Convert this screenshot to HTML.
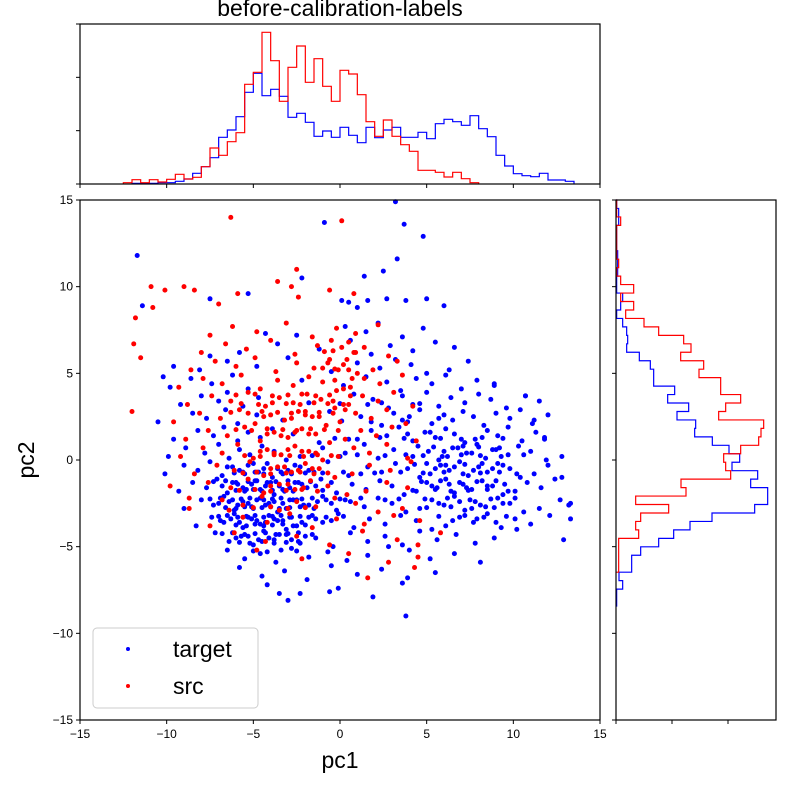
<!DOCTYPE html>
<html><head><meta charset="utf-8"><style>
html,body{margin:0;padding:0;background:#fff;}
svg{display:block;font-family:"Liberation Sans","DejaVu Sans",sans-serif;}
</style></head><body>
<svg id="chart" width="800" height="800" viewBox="0 0 800 800">
<text x="340" y="16" text-anchor="middle" font-size="23">before-calibration-labels</text>
<g id="scatter"></g>
<g id="tophist"></g>
<g id="righthist"></g>
<g id="axes"></g>
<text x="340" y="768" text-anchor="middle" font-size="23">pc1</text>
<text x="34" y="460" text-anchor="middle" font-size="23" transform="rotate(-90 34 460)">pc2</text>
<g>
<rect x="93" y="628" width="165" height="80" rx="4" fill="#fff" fill-opacity="0.8" stroke="#ccc"/>
<circle cx="128" cy="649" r="2" fill="blue"/>
<text x="173" y="657" font-size="23">target</text>
<circle cx="128" cy="686" r="2" fill="red"/>
<text x="173" y="694" font-size="23">src</text>
</g>
</svg>
<script>
const axisTicks = [-15,-10,-5,0,5,10,15];
const topHistBlueStart = -12, topHistRedStart = -12.5, topHistBin = 0.5;
const topHistBlue = [2,2,2,4,4,8,15,32,52,79,140,162,202,275,332,265,284,263,200,212,185,143,159,140,170,146,124,170,139,162,170,140,140,155,136,181,194,187,176,205,166,142,86,54,31,25,22,32,12,12,8];
const topHistRed = [4,13,4,13,6,14,29,15,20,52,108,86,127,154,299,335,455,370,248,350,414,305,376,293,248,341,330,268,187,143,192,143,118,98,41,41,35,21,35,16,4];
const rightHistStart = 15, rightHistBin = 0.488;
const rightHistBlue = [2,8,8,2,2,2,5,5,5,2,2,20,14,2,20,32,35,32,70,103,113,113,176,155,218,183,239,236,289,339,371,348,425,404,455,455,416,288,222,173,128,74,47,47,9,20,2,2];
const rightHistRed = [2,2,14,2,2,2,2,8,2,14,53,14,53,29,84,128,203,225,194,263,249,314,314,374,329,308,443,435,428,374,323,329,344,195,210,59,158,74,59,68,8,8,8,8];
const topCountTicks = [0,160,320,480];
const rightCountTicks = [0,168,336];
const targetPoints = [
[-11.7,11.8],[-11.4,8.9],[-7.5,9.3],[-5.3,9.6],[-2.2,10.5],[-0.9,13.7],[3.2,14.9],[3.7,13.6],[4.8,12.9],[3.3,11.6],[2.5,10.9],[1.4,10.6],[2.7,9.3],[3.8,9.2],[5,9.3],[6,8.9],[0.5,9.1],[1,8.8],[1.6,9.2],[0.1,9.2],
[3.8,-9],[-3.5,-7.7],[-3,-8.1],[-0.6,-7.6],[13.3,-3.4],[13.3,-2.5],[12.9,-4.6],[12.8,-1],[11.8,1.2],[11.2,2.3],[10.7,3.7],[8.9,4.4],
[-2.5,7.2],[0.3,7.7],[1.5,7.4],[2.2,7.9],[3.6,7.1],[4.8,7.6],[-4.3,7.3],
[-5.8,6.2],[-3.6,6.7],[-1.2,6.4],[0.6,6.9],[1.8,6.1],[2.9,6.6],[4.2,6.3],[5.5,6.8],[6.6,6.5],[-7.5,6],
[-8.1,5.2],[-6.5,5.7],[-4.8,5.4],[-3,5.9],[-0.5,5.1],[1,5.6],[2.3,5.3],[3.2,5.8],[4.1,5.5],[5,5],[6.3,5.2],[7.4,5.7],[-9.6,5.4],
[-9.8,4.2],[-8.6,4.7],[-7.4,4.4],[-6.2,4.9],[-5.3,4.1],[-2.2,4.6],[0.2,4.3],[1.5,4.8],[2.7,4.5],[3.5,4],[4.4,4.7],[5.3,4.4],[6.1,4.9],[7,4.1],[7.9,4.6],[8.9,4.3],[-10.2,4.8],
[-9.2,3.2],[-8,3.7],[-7,3.4],[-6.5,3.9],[-5.6,3.1],[-4.7,3.6],[-1.8,3.3],[0.8,3.8],[1.9,3.5],[2.8,3],[3.6,3.7],[4.2,3.2],[5,3.9],[5.7,3.1],[6.4,3.6],[7.2,3.3],[8,3.8],[8.7,3.5],[9.6,3],[10.7,3.7],[11.5,3.4],
[-10.5,2.2],[-8.5,2.7],[-7.7,2.4],[-6.6,2.9],[-5.9,2.1],[-4.8,2.6],[-3.3,2.3],[-0.6,2.8],[1.2,2.5],[2.4,2],[3.1,2.7],[3.9,2.2],[4.6,2.9],[5.3,2.1],[6,2.6],[6.5,2.3],[7.1,2.8],[7.7,2.5],[8.3,2],[9,2.7],[9.8,2.4],[10.4,2.9],[11.1,2.1],[12,2.6],
[-9.6,1.2],[-8.2,1.7],[-7.3,1.4],[-6.7,1.9],[-5.9,1.1],[-5.3,1.6],[-4.6,1.3],[-3.9,1.8],[-2.7,1.5],[-1.2,1],[0.5,1.2],[1.8,1.7],[2.7,1.4],[3.4,1.9],[4.2,1.1],[4.9,1.6],[5.5,1.3],[6.1,1.8],[6.6,1.5],[7.2,1],[7.8,1.2],[8.5,1.7],[9.1,1.4],[9.7,1.9],[10.5,1.1],[11.3,1.6],[11.8,1.3],
[-9.9,0.2],[-8.9,0.7],[-7.8,0.4],[-7,0.9],[-6.4,0.1],[-5.8,0.6],[-5.2,0.3],[-4.5,0.8],[-3.8,0.5],[-3.1,0],[-2.3,0.2],[-1,0.7],[0.3,0.4],[1.4,0.9],[2.2,0.1],[3.1,0.6],[3.8,0.3],[4.5,0.8],[5.1,0.5],[5.7,0],[6.2,0.2],[6.8,0.7],[7.3,0.4],[7.9,0.9],[8.4,0.1],[9,0.6],[9.7,0.3],[10.3,0.8],[11,0.5],[11.9,0],[12.8,0.2],
[-10.1,-0.8],[-9,-0.3],[-8.2,-0.6],[-7.5,-0.1],[-6.8,-0.9],[-6.2,-0.4],[-5.6,-0.7],[-5,-0.2],[-4.4,-0.5],[-3.9,-1],[-3.3,-0.8],[-2.6,-0.3],[-1.8,-0.6],[-0.7,-0.1],[0.5,-0.9],[1.6,-0.4],[2.4,-0.7],[3.2,-0.2],[3.9,-0.5],[4.6,-1],[5.2,-0.8],[5.8,-0.3],[6.3,-0.6],[6.9,-0.1],[7.4,-0.9],[8,-0.4],[8.5,-0.7],[9.1,-0.2],[9.8,-0.5],[10.4,-1],[11.2,-0.8],[12,-0.3],
[-9.3,-1.8],[-8.5,-1.3],[-7.7,-1.6],[-7.1,-1.1],[-6.5,-1.9],[-5.9,-1.4],[-5.4,-1.7],[-4.9,-1.2],[-4.3,-1.5],[-3.8,-2],[-3.2,-1.8],[-2.6,-1.3],[-1.9,-1.6],[-1.1,-1.1],[-0.2,-1.9],[0.7,-1.4],[1.5,-1.7],[2.3,-1.2],[3,-1.5],[3.7,-2],[4.4,-1.8],[5,-1.3],[5.6,-1.6],[6.1,-1.1],[6.6,-1.9],[7.1,-1.4],[7.6,-1.7],[8.2,-1.2],[8.8,-1.5],[9.4,-2],[10.1,-1.8],[10.8,-1.3],[11.6,-1.6],[12.4,-1.1],
[-9,-2.8],[-8,-2.3],[-7.3,-2.6],[-6.7,-2.1],[-6.1,-2.9],[-5.6,-2.4],[-5.1,-2.7],[-4.6,-2.2],[-4.1,-2.5],[-3.6,-3],[-3.1,-2.8],[-2.5,-2.3],[-1.8,-2.6],[-1,-2.1],[-0.2,-2.9],[0.6,-2.4],[1.4,-2.7],[2.2,-2.2],[3,-2.5],[3.8,-3],[4.6,-2.8],[5.3,-2.3],[6,-2.6],[6.6,-2.1],[7.2,-2.9],[7.8,-2.4],[8.4,-2.7],[9.1,-2.2],[9.8,-2.5],[10.6,-3],[11.5,-2.8],[12.7,-2.3],[13.2,-2.6],
[-8.3,-3.8],[-7.4,-3.3],[-6.7,-3.6],[-6.1,-3.1],[-5.6,-3.9],[-5.1,-3.4],[-4.6,-3.7],[-4.1,-3.2],[-3.6,-3.5],[-3.1,-4],[-2.5,-3.8],[-1.8,-3.3],[-1,-3.6],[-0.1,-3.1],[0.8,-3.9],[1.7,-3.4],[2.6,-3.7],[3.5,-3.2],[4.4,-3.5],[5.3,-4],[6.1,-3.8],[6.9,-3.3],[7.7,-3.6],[8.5,-3.1],[9.3,-3.9],[10.1,-3.4],[11,-3.7],[12.1,-3.2],
[-7.2,-4.2],[-6.4,-4.7],[-5.7,-4.4],[-5,-4.9],[-4.4,-4.1],[-3.8,-4.6],[-3.1,-4.3],[-2.3,-4.8],[-1.4,-4.5],[-0.4,-5],[0.6,-4.2],[1.6,-4.7],[2.6,-4.4],[3.6,-4.9],[4.6,-4.1],[5.6,-4.6],[6.7,-4.3],[7.8,-4.8],[8.9,-4.5],[10.2,-4],
[-6.5,-5.2],[-5.5,-5.7],[-4.6,-5.4],[-3.7,-5.9],[-2.8,-5.1],[-1.8,-5.6],[-0.7,-5.3],[0.4,-5.8],[1.6,-5.5],[2.8,-5],[4,-5.2],[5.2,-5.7],[6.6,-5.4],[8.1,-5.9],
[-5.8,-6.2],[-4.5,-6.7],[-3.2,-6.4],[-1.9,-6.9],[-0.5,-6.1],[1,-6.6],[2.4,-6.3],[3.9,-6.8],[5.5,-6.5],
[-4.2,-7.2],[-2.3,-7.7],[-0.1,-7.4],[1.9,-7.9],[3.6,-7.1],
[-6.5,-0.4],[-5.8,-0.6],[-5.3,-0.3],[-4.7,-0.7],[-4.2,-0.2],[-3.6,-0.5],[-3,-0.6],[-2.3,-0.4],[-1.5,-0.7],
[-6.8,-1.5],[-6.2,-1.3],[-5.6,-1.6],[-5.1,-1.4],[-4.6,-1.7],[-4,-1.3],[-3.5,-1.5],[-2.9,-1.6],[-2.2,-1.4],[-1.4,-1.5],[-0.5,-1.3],
[-7,-2.5],[-6.4,-2.4],[-5.9,-2.6],[-5.3,-2.5],[-4.8,-2.3],[-4.3,-2.6],[-3.8,-2.4],[-3.3,-2.5],[-2.7,-2.3],[-2.1,-2.6],[-1.3,-2.4],[-0.5,-2.5],[0.3,-2.3],
[-6.9,-3.5],[-6.3,-3.4],[-5.8,-3.6],[-5.3,-3.3],[-4.8,-3.5],[-4.3,-3.6],[-3.8,-3.4],[-3.3,-3.5],[-2.8,-3.3],[-2.2,-3.6],[-1.4,-3.4],[-0.5,-3.5],
[-6,-4.5],[-5.3,-4.4],[-4.7,-4.6],[-4.1,-4.5],[-3.5,-4.3],[-2.8,-4.6],[-2,-4.4],
[5.5,-0.5],[6.6,-0.4],[7.7,-0.6],[8.8,-0.5],[5.3,-1.5],[6.3,-1.4],[7.3,-1.6],[8.5,-1.5],[9.5,-1.4],[5.7,-2.5],[6.9,-2.4],[8.1,-2.6],[9.4,-2.5],[6.5,-3.5],[7.9,-3.4],[9,-3.6],[6,0.5],[7.6,0.4],[8.8,0.6],[4,2.5],[5.7,2.4],[3.9,1.5],[5.2,1.6],
[-6.1,-0.75],[-5.5,-0.8],[-4.9,-0.7],[-4.4,-0.8],[-3.4,-0.7],[-2.8,-0.8],[-2,-0.75],
[-7.3,-1.25],[-6.6,-1.2],[-6,-1.3],[-5.3,-1.25],[-4.8,-1.2],[-4.2,-1.3],[-3.7,-1.25],[-3,-1.2],[-2.4,-1.3],[-1.7,-1.25],
[-6,-1.75],[-5.5,-1.8],[-5,-1.7],[-4.5,-1.8],[-3.9,-1.75],[-3.3,-1.7],[-2.7,-1.8],[-1,-1.75],
[-7.5,-2.25],[-6.9,-2.2],[-6.2,-2.3],[-5.7,-2.25],[-5.2,-2.2],[-4.4,-2.3],[-3.9,-2.25],[-3.4,-2.2],[-2.9,-2.3],[-2.2,-2.25],[-1.6,-2.2],[-0.8,-2.3],
[-6.6,-2.75],[-6,-2.8],[-5.5,-2.7],[-5,-2.8],[-4.5,-2.75],[-4,-2.7],[-3.5,-2.8],[-2.9,-2.75],[-2.3,-2.7],[-1.5,-2.8],
[-7,-3.25],[-6.5,-3.2],[-5.9,-3.3],[-5.4,-3.25],[-4.9,-3.2],[-4.4,-3.3],[-3.9,-3.25],[-3.4,-3.2],[-2.9,-3.3],[-2.3,-3.25],[-1.6,-3.2],[-0.8,-3.3],[0.2,-3.25],
[-6,-3.75],[-5.4,-3.8],[-4.9,-3.7],[-4.4,-3.8],[-3.9,-3.75],[-3.3,-3.7],[-2.7,-3.8],[-2,-3.75],
[-6.8,-4.25],[-6.2,-4.2],[-5.5,-4.3],[-4.9,-4.25],[-4.3,-4.2],[-3.7,-4.3],[-3,-4.25],[-2.4,-4.2],[-1.6,-4.3],
[-5.8,-4.75],[-5.2,-4.8],[-4.5,-4.7],[-3.8,-4.8],[-3.1,-4.75],[-2.4,-4.7],
[-5,-5.25],[-4.2,-5.3],[-3.4,-5.2],[-2.5,-5.25],
[5.8,1.25],[7,1.2],[8.2,1.3],[9.4,1.25],
[5.4,0.75],[6.5,0.7],[7.1,0.8],[8,0.75],[9.2,0.7],
[4.8,0.25],[5.9,0.2],[7,0.3],[8.1,0.25],[9.3,0.2],[10.6,0.3],
[4.3,-0.25],[5,-0.2],[6.1,-0.3],[7.2,-0.25],[8.2,-0.2],[9.4,-0.3],
[4.8,-0.75],[6,-0.7],[7.1,-0.8],[8.1,-0.75],[9.2,-0.7],[10.2,-0.8],
[4.7,-1.25],[5.8,-1.2],[6.9,-1.3],[7.9,-1.25],[9,-1.2],
[4.2,-1.75],[5.5,-1.7],[6.4,-1.8],[7.4,-1.75],[8.5,-1.7],[9.7,-1.8],
[4.9,-2.25],[6.2,-2.2],[7.5,-2.3],[8.7,-2.25],[10.1,-2.2],
[5,-2.75],[6.4,-2.7],[7.6,-2.8],[8.9,-2.75],
[5.7,-3.25],[7.2,-3.2],[8.3,-3.3],[9.6,-3.25],
[0.1,2.25],[1.8,2.2],[3.6,2.3],[-0.3,1.25],[1,1.2],[2.3,1.3],[3.7,1.25],
[-1.6,0.25],[0,0.2],[1,0.3],[2.6,0.25],[4.2,0.2],[-1,-0.75],[0.2,-0.7],[1.2,-0.8],[2,-0.75],[3.5,-0.7],
[0,-2.25],[1.2,-2.2],[2.6,-2.3],[3.4,-2.25],[0,3.25],[1.6,3.2],[2.4,3.3],[4.6,3.25]
];
const srcPoints = [
[-6.3,14],[0.1,13.8],[-10.9,10],[-10.1,9.8],[-9,10],[-8.4,9.8],[-10.8,8.8],[-11.8,8.2],[-11.9,6.7],[-11.5,5.9],[-12,2.8],[-2.5,11],[-3.6,10.3],[-2.8,10],[-0.6,9.8],[-5.9,9.6],[-7,9],[-2.4,9.4],[0.8,9.6],
[1.6,-6.8],[4.3,-6.2],[5.8,-4.2],[4.5,-4.9],[-9.8,-1.5],[-8.7,-2.2],[-6.4,-2.9],
[-7.5,7.2],[-6.2,7.7],[-4.8,7.4],[-3.1,7.9],[-1.6,7.1],[-0.2,7.6],[0.9,7.3],[2.2,7.8],
[-8,6.2],[-6.6,6.7],[-5.4,6.4],[-4,6.9],[-2.6,6.1],[-1.3,6.6],[-0.4,6.3],[0.5,6.8],[1.4,6.5],[2.8,6],
[-8.6,5.2],[-7.2,5.7],[-6,5.4],[-4.9,5.9],[-3.7,5.1],[-2.5,5.6],[-1.5,5.3],[-0.6,5.8],[0.2,5.5],[1,5],[1.9,5.2],[3.3,5.7],
[-9.3,4.2],[-7.9,4.7],[-6.8,4.4],[-5.7,4.9],[-4.6,4.1],[-3.6,4.6],[-2.7,4.3],[-1.8,4.8],[-1,4.5],[-0.2,4],[0.6,4.2],[1.4,4.7],[2.3,4.4],[3.6,4.9],
[-8.8,3.2],[-7.4,3.7],[-6.3,3.4],[-5.3,3.9],[-4.3,3.1],[-3.5,3.6],[-2.7,3.3],[-1.9,3.8],[-1.1,3.5],[-0.3,3],[0.5,3.2],[1.3,3.7],[2.2,3.4],[3.1,3.9],[4.2,3.1],
[-9.6,2.2],[-8.1,2.7],[-6.9,2.4],[-5.8,2.9],[-4.9,2.1],[-4,2.6],[-3.2,2.3],[-2.4,2.8],[-1.6,2.5],[-0.8,2],[0,2.2],[0.9,2.7],[1.8,2.4],[2.7,2.9],[3.8,2.1],
[-8.9,1.2],[-7.6,1.7],[-6.5,1.4],[-5.5,1.9],[-4.6,1.1],[-3.8,1.6],[-3,1.3],[-2.2,1.8],[-1.4,1.5],[-0.6,1],[0.3,1.2],[1.2,1.7],[2.1,1.4],[3,1.9],[4.4,1.1],
[-9.2,0.2],[-7.9,0.7],[-6.8,0.4],[-5.9,0.9],[-5,0.1],[-4.2,0.6],[-3.4,0.3],[-2.6,0.8],[-1.8,0.5],[-1,0],[-0.1,0.2],[0.8,0.7],[1.7,0.4],[2.7,0.9],[3.9,0.1],
[-8.4,-0.8],[-7.1,-0.3],[-6.1,-0.6],[-5.2,-0.1],[-4.4,-0.9],[-3.6,-0.4],[-2.8,-0.7],[-2,-0.2],[-1.2,-0.5],[-0.3,-1],[0.7,-0.8],[1.7,-0.3],[2.9,-0.6],[4.1,-0.1],
[-7.6,-1.3],[-6.3,-1.6],[-5.3,-1.1],[-4.4,-1.9],[-3.5,-1.4],[-2.6,-1.7],[-1.7,-1.2],[-0.7,-1.5],[0.4,-2],[1.5,-1.8],[2.7,-1.3],[3.9,-1.6],
[-8.7,-2.8],[-6.8,-2.3],[-5.6,-2.6],[-4.5,-2.1],[-3.5,-2.9],[-2.5,-2.4],[-1.4,-2.7],[-0.3,-2.2],[0.9,-2.5],[2.2,-3],[3.6,-2.8],
[-7.5,-3.8],[-5.6,-3.3],[-4.2,-3.6],[-2.9,-3.1],[-1.6,-3.9],[-0.2,-3.4],[1.4,-3.7],[3.1,-3.2],[4.6,-3.5],
[-6.1,-4.2],[-4.3,-4.7],[-2.5,-4.4],[-0.6,-4.9],[1.3,-4.1],[3.3,-4.6],
[-4.8,-5.2],[-2.2,-5.7],[0.5,-5.4],[2.8,-5.9],[4.5,-5.6],
[-4.6,0.5],[-3.8,0.4],[-3,0.6],[-2.2,0.5],[-1.4,0.4],[-4.2,1.5],[-3.4,1.4],[-2.6,1.6],[-1.8,1.5],[-4,-0.5],[-3.2,-0.4],[-2.4,-0.6],[-1.6,-0.5],[-4.4,2.5],[-2.8,2.4],[-2,2.6],[-1.2,2.5],[-4,-1.5],[-3,-1.4],[-2.1,-1.6],
[-0.4,3.4],[0.2,4.1],[-0.1,5.2],[0.4,5.8],[0.1,6.5],[-0.5,6.9],[0.7,4.7],[0.6,3.7],[-0.3,4.6],[0.3,2.9],[-0.7,5.6],[0.9,6.2],
[-6,3.75],[-4.9,3.8],[-3.9,3.7],[-3,3.75],[-2.2,3.8],[-1.4,3.7],[-0.6,3.75],
[-5.7,3.25],[-4.7,3.2],[-3.9,3.3],[-3.1,3.25],[-2.3,3.2],[-1.5,3.3],[-0.7,3.25],[0.2,3.2],
[-6.3,2.75],[-5.3,2.7],[-4.5,2.8],[-3.6,2.75],[-2.8,2.7],[-2,2.8],[-1.2,2.75],[-0.4,2.7],
[-6,1.75],[-5.1,1.7],[-4.2,1.8],[-3.3,1.75],[-2.5,1.7],[-1.7,1.8],[-0.9,1.75],[-0.1,1.7],
[-5.5,0.25],[-4.6,0.2],[-3.8,0.3],[-2.9,0.25],[-2.1,0.2],[-1.3,0.3],[-0.5,0.25],
[-5.6,-0.75],[-4.8,-0.7],[-4,-0.8],[-3.1,-0.75],[-2.3,-0.7],[-1.5,-0.8],[-0.7,-0.75],
[-5.8,-1.75],[-4.9,-1.7],[-4,-1.8],[-3.1,-1.75],[-2.2,-1.7],[-1.3,-1.8],
[-5,-2.75],[-4,-2.7],[-3,-2.8],[-2,-2.75],
[-0.3,5.25],[0.5,5.2],[-1,5.3],[-0.9,6.25],[0.8,6.2]
];

const NS = 'http://www.w3.org/2000/svg';
const MX0 = 80, MX1 = 600, MY0 = 200, MY1 = 720;
function xScale(v){ return MX0 + (v + 15) * (MX1 - MX0) / 30; }
function yScale(v){ return MY1 - (v + 15) * (MY1 - MY0) / 30; }
const TOP_Y0 = 24, TOP_Y1 = 184, RX0 = 616, RX1 = 776, COUNT_MAX = 480;
function topCount(c){ return TOP_Y1 - c * (TOP_Y1 - TOP_Y0) / COUNT_MAX; }
function rightCount(c){ return RX0 + c * (RX1 - RX0) / COUNT_MAX; }
function mk(tag, attrs, parent){
  const e = document.createElementNS(NS, tag);
  for (const k in attrs) e.setAttribute(k, attrs[k]);
  parent.appendChild(e);
  return e;
}
const scatter = document.getElementById('scatter');
targetPoints.forEach(p => {
  const c = mk('circle', {cx: xScale(p[0]), cy: yScale(p[1]), r: 2.5, fill: 'blue'}, scatter);
  
  
});
srcPoints.forEach(p => {
  const c = mk('circle', {cx: xScale(p[0]), cy: yScale(p[1]), r: 2.5, fill: 'red'}, scatter);
  
  
});
function topPath(vals, start, color, name){
  let d = 'M' + xScale(start) + ',' + TOP_Y1;
  vals.forEach((v, i) => {
    d += ' L' + xScale(start + i * topHistBin) + ',' + topCount(v);
    d += ' L' + xScale(start + (i + 1) * topHistBin) + ',' + topCount(v);
  });
  d += ' L' + xScale(start + vals.length * topHistBin) + ',' + TOP_Y1;
  const p = mk('path', {d: d, fill: 'none', stroke: color, 'stroke-width': 1.2}, document.getElementById('tophist'));
  
  
}
topPath(topHistBlue, topHistBlueStart, 'blue', 'top-hist-target');
topPath(topHistRed, topHistRedStart, 'red', 'top-hist-src');
function rightPath(vals, color, name){
  let d = 'M' + RX0 + ',' + yScale(rightHistStart);
  vals.forEach((v, i) => {
    d += ' L' + rightCount(v) + ',' + yScale(rightHistStart - i * rightHistBin);
    d += ' L' + rightCount(v) + ',' + yScale(rightHistStart - (i + 1) * rightHistBin);
  });
  d += ' L' + RX0 + ',' + yScale(rightHistStart - vals.length * rightHistBin);
  const p = mk('path', {d: d, fill: 'none', stroke: color, 'stroke-width': 1.2}, document.getElementById('righthist'));
  
  
}
rightPath(rightHistBlue, 'blue', 'right-hist-target');
rightPath(rightHistRed, 'red', 'right-hist-src');
mk('line', {x1: RX0, y1: MY0, x2: RX0, y2: MY1, stroke: '#000', 'stroke-width': 1}, document.getElementById('righthist'));

const axes = document.getElementById('axes');
function frame(x0, y0, x1, y1, name){
  const r = mk('rect', {x: x0, y: y0, width: x1 - x0, height: y1 - y0, fill: 'none', stroke: '#000', 'stroke-width': 1.2}, axes);
  
  
}
frame(MX0, MY0, MX1, MY1, 'main-axes-frame');
frame(MX0, TOP_Y0, MX1, TOP_Y1, 'top-hist-frame');
frame(RX0, MY0, RX1, MY1, 'right-hist-frame');
axisTicks.forEach(t => {
  const x = xScale(t), y = yScale(t);
  mk('line', {x1: x, y1: MY1, x2: x, y2: MY1 + 4, stroke: '#000'}, axes);
  const lx = mk('text', {x: x, y: MY1 + 18, 'text-anchor': 'middle', 'font-size': 12}, axes);
  lx.textContent = t < 0 ? '\u2212' + Math.abs(t) : String(t);
  
  
  mk('line', {x1: MX0 - 4, y1: y, x2: MX0, y2: y, stroke: '#000'}, axes);
  const ly = mk('text', {x: MX0 - 7, y: y + 4, 'text-anchor': 'end', 'font-size': 12}, axes);
  ly.textContent = t < 0 ? '\u2212' + Math.abs(t) : String(t);
  
  
  mk('line', {x1: x, y1: TOP_Y1, x2: x, y2: TOP_Y1 + 4, stroke: '#000'}, axes);
  mk('line', {x1: RX0 - 4, y1: y, x2: RX0, y2: y, stroke: '#000'}, axes);
});
topCountTicks.forEach(c => {
  mk('line', {x1: MX0 - 4, y1: topCount(c), x2: MX0, y2: topCount(c), stroke: '#000'}, axes);
});
rightCountTicks.forEach(c => {
  mk('line', {x1: rightCount(c), y1: MY1, x2: rightCount(c), y2: MY1 + 4, stroke: '#000'}, axes);
});
</script>
</body></html>
